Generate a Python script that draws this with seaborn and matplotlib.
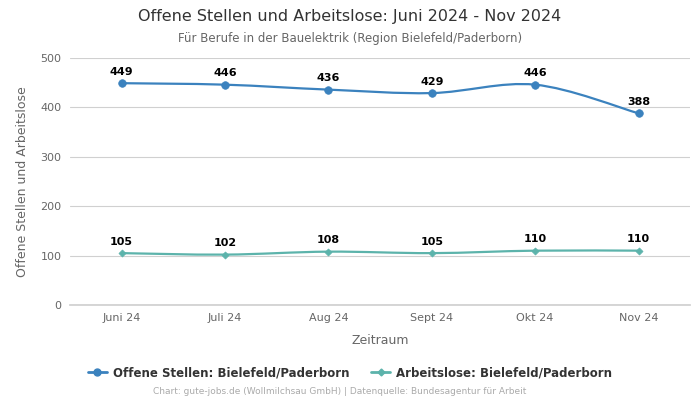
import numpy as np
import pandas as pd
import matplotlib
matplotlib.use("Agg")
import matplotlib.pyplot as plt
from matplotlib.path import Path
from matplotlib.patches import PathPatch
from matplotlib.lines import Line2D
import seaborn as sns

# --- Data --------------------------------------------------------------------
months      = ["Juni 24", "Juli 24", "Aug 24", "Sept 24", "Okt 24", "Nov 24"]
offene      = [449, 446, 436, 429, 446, 388]
arbeitslose = [105, 102, 108, 105, 110, 110]
series_names = ["Offene Stellen: Bielefeld/Paderborn", "Arbeitslose: Bielefeld/Paderborn"]

BLUE = "#3b82be"
TEAL = "#5cb3ab"

sns.set_theme(style="whitegrid")
plt.rcParams["font.family"] = ["DejaVu Sans"]

fig = plt.figure(figsize=(7, 4), dpi=100)
ax = fig.add_axes([0.1, 0.2375, 0.886, 0.6175])

x = np.arange(len(months))


def smooth_path(xs, ys):
    # cubic bezier through the points (catmull-rom style control points)
    pts = np.column_stack([xs, ys]).astype(float)
    verts = [pts[0]]
    codes = [Path.MOVETO]
    n = len(pts)
    for i in range(n - 1):
        p0 = pts[i - 1] if i > 0 else pts[i]
        p1 = pts[i]
        p2 = pts[i + 1]
        p3 = pts[i + 2] if i + 2 < n else pts[i + 1]
        c1 = p1 + (p2 - p0) / 6.0
        c2 = p2 - (p3 - p1) / 6.0
        verts += [c1, c2, p2]
        codes += [Path.CURVE4] * 3
    return Path(verts, codes)


for vals, color, marker, ms in [(offene, BLUE, "o", 30), (arbeitslose, TEAL, "D", 13)]:
    ax.add_patch(PathPatch(smooth_path(x, vals), facecolor="none",
                           edgecolor=color, lw=1.6, zorder=2))
    df = pd.DataFrame({"x": x, "y": vals})
    sns.scatterplot(data=df, x="x", y="y", color=color, marker=marker, s=ms,
                    edgecolor=color, linewidth=0.5, ax=ax, zorder=3, legend=False)
    for xi, v in zip(x, vals):
        ax.annotate(str(v), (xi, v), xytext=(0, 4.5), textcoords="offset points",
                    ha="center", va="bottom", fontsize=8, fontweight="bold",
                    color="black", zorder=4)

ax.set_xlim(-0.5, len(months) - 0.5)
ax.set_ylim(0, 500)
ax.set_yticks([0, 100, 200, 300, 400, 500])
ax.set_xticks(x)
ax.set_xticklabels(months)
ax.tick_params(axis="both", labelsize=8, colors="#666666", length=0, pad=6)
ax.grid(axis="x", visible=False)
ax.grid(axis="y", color="#d0d0d0", lw=0.8)
for s in ["left", "right", "top"]:
    ax.spines[s].set_visible(False)
ax.spines["bottom"].set_color("#d0d0d0")
ax.set_facecolor("white")

ax.set_xlabel("Zeitraum", fontsize=9, color="#666666", labelpad=8)
ax.set_ylabel("Offene Stellen und Arbeitslose", fontsize=9, color="#666666", labelpad=8)

fig.text(0.5, 0.958, "Offene Stellen und Arbeitslose: Juni 2024 - Nov 2024",
         ha="center", va="center", fontsize=11.5, color="#333333")
fig.text(0.5, 0.903, "Für Berufe in der Bauelektrik (Region Bielefeld/Paderborn)",
         ha="center", va="center", fontsize=8.5, color="#666666")

handles = [
    Line2D([0], [0], color=BLUE, lw=2, marker="o", markersize=5),
    Line2D([0], [0], color=TEAL, lw=2, marker="D", markersize=3.5),
]
fig.legend(handles, series_names, loc="center", bbox_to_anchor=(0.5, 0.068),
           ncol=2, frameon=False, prop={"weight": "bold", "size": 8.5},
           labelcolor="#333333", handlelength=1.6, columnspacing=1.9, handletextpad=0.5)

fig.text(0.485, 0.02, "Chart: gute-jobs.de (Wollmilchsau GmbH) | Datenquelle: Bundesagentur für Arbeit",
         ha="center", va="center", fontsize=6.5, color="#aaaaaa")

plt.savefig("out.png", dpi=100)
